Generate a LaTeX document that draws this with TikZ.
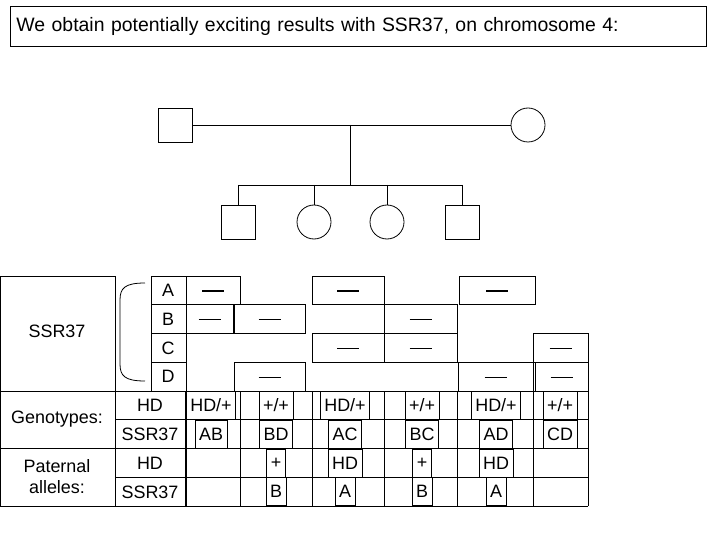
\documentclass[tikz,border=0pt]{standalone}
\usepackage{fontspec}
\setmainfont{Liberation Sans}
\begin{document}
\begin{tikzpicture}[x=1bp,y=-1bp,line width=0.8bp,
  t/.style={font=\fontsize{18}{21}\selectfont,inner sep=2bp},
  bx/.style={draw,font=\fontsize{18}{21}\selectfont,inner sep=4bp,minimum height=28bp}]
\useasboundingbox (0,0) rectangle (720,540);
% title
\node[draw,minimum width=696bp,minimum height=40bp,text width=684bp,font=\fontsize{19.5}{22}\selectfont,anchor=north west] (title) at (10,6) {We obtain potentially exciting results with SSR37, on chromosome 4:};
% pedigree
\node[draw,minimum size=34bp,inner sep=0] (fa) at (175,125) {};
\node[draw,circle,minimum size=34bp,inner sep=0] (mo) at (528,125) {};
\draw (fa) -- (mo);
\coordinate (m) at (350,125);
\coordinate (s) at (350,185);
\draw (m) -- (s);
\node[draw,minimum size=34bp,inner sep=0] (c1) at (238,222) {};
\node[draw,circle,minimum size=34bp,inner sep=0] (c2) at (314,222) {};
\node[draw,circle,minimum size=34bp,inner sep=0] (c3) at (387,222) {};
\node[draw,minimum size=34bp,inner sep=0] (c4) at (462,222) {};
\coordinate (l) at (238,185); \coordinate (r) at (462,185);
\draw (l) -- (r);
\draw (l) -- (c1); \draw (c2|-l) -- (c2); \draw (c3|-l) -- (c3); \draw (r) -- (c4);
% left labels
\draw (0,276) rectangle (115,506);
\draw (0,391) -- (186,391); \draw (0,448) -- (588,448);
\node[t] (ssr) at (57,331) {SSR37};
\node[t] (gen) at (57,419) {Genotypes:};
\node[t,align=center] (pat) at (57,477) {Paternal\\alleles:};
% allele labels
\foreach \n/\y in {A/290,B/319,C/348,D/376}{\node[t] (al\n) at (168,\y) {\n};}
\draw (151,276) rectangle (186,391);
\foreach \y in {304,333,362}{\draw (151,\y) -- (186,\y);}
\draw (145,283) .. controls (125,283) and (120,288) .. (120,300) -- (120,364) .. controls (120,376) and (125,381) .. (145,381);
% allele boxes
\def\ab#1#2#3#4{\draw (#1,#3) rectangle (#2,#4); \draw[line width=1.6bp] ({(#1+#2)/2-11},{(#3+#4)/2+1}) -- ({(#1+#2)/2+11},{(#3+#4)/2+1});}
\ab{186}{240}{276}{304}\ab{312}{384}{276}{304}\ab{459}{535}{276}{304}
\ab{186}{233}{304}{333}\ab{234}{305}{304}{333}\ab{384}{457}{304}{333}
\ab{312}{384}{333}{362}\ab{384}{457}{333}{362}\ab{533}{588}{333}{362}
\ab{234}{305}{362}{391}\ab{458}{533}{362}{391}\ab{535}{588}{362}{391}
% lower grid
\draw (115,391) -- (588,391);
\foreach \y in {419,477}{\draw (115,\y) -- (588,\y);}
\draw (115,506) -- (588,506);
\draw[line width=1.2bp] (186,391) -- (186,506);
\foreach \x in {240,312,384,457,533,588}{\draw (\x,391) -- (\x,506);}
\node[t] (hd1) at (150,405) {HD};
\node[t] (s1) at (150,434) {SSR37};
\node[t] (hd2) at (150,463) {HD};
\node[t] (s2) at (150,492) {SSR37};
% genotypes
\foreach \x/\g/\s in {211/HD\slash+/AB,276/+\slash+/BD,345/HD\slash+/AC,422/+\slash+/BC,496/HD\slash+/AD,560/+\slash+/CD}{
  \node[bx] at (\x,405) {\g};
  \node[bx] at (\x,434) {\s};}
\foreach \x/\h/\a in {276/+/B,345/HD/A,422/+/B,496/HD/A}{
  \node[bx] at (\x,463) {\h};
  \node[bx] at (\x,491) {\a};}
\end{tikzpicture}
\end{document}
